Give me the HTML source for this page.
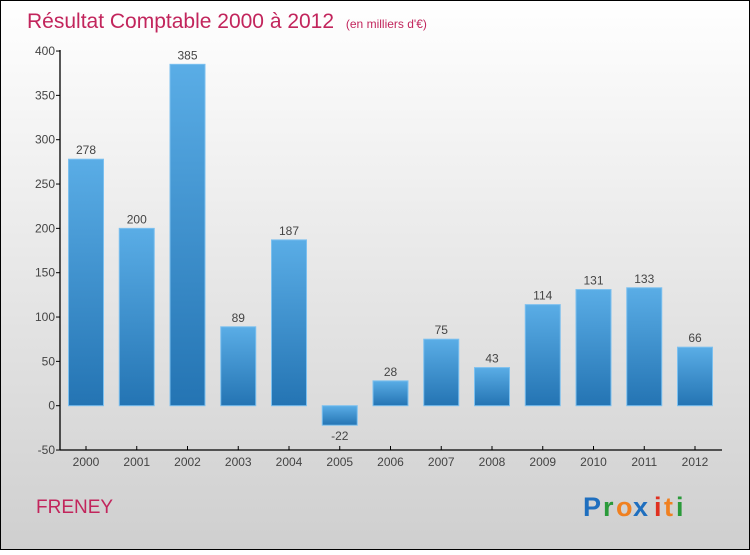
<!DOCTYPE html>
<html><head><meta charset="utf-8"><style>
html,body{margin:0;padding:0;}
body{width:750px;height:550px;overflow:hidden;font-family:"Liberation Sans",sans-serif;}
</style></head><body>
<svg width="750" height="550" xmlns="http://www.w3.org/2000/svg">
<defs>
<linearGradient id="bg" x1="0" y1="0" x2="0" y2="1"><stop offset="0" stop-color="#ffffff"/><stop offset="1" stop-color="#cfcfcf"/></linearGradient>
<linearGradient id="bar" x1="0" y1="0" x2="0" y2="1"><stop offset="0" stop-color="#5aade6"/><stop offset="1" stop-color="#2474b3"/></linearGradient>
</defs>
<rect x="0.5" y="0.5" width="749" height="549" fill="url(#bg)" stroke="#000"/>
<text x="27" y="28" font-size="21" fill="#c2255c">Résultat Comptable 2000 à 2012 <tspan font-size="12" dx="6">(en milliers d'€)</tspan></text>
<g id="axes"></g>
<g id="bars"></g>
<text x="36" y="513" font-size="19" fill="#c2255c">FRENEY</text>
<g font-size="27" font-weight="bold">
<text x="583" y="516" fill="#1f6fbf">P</text><text x="603" y="516" fill="#2a9a3a">r</text><text x="616" y="516" fill="#f08020">o</text><text x="633" y="516" fill="#1f6fbf">x</text><text x="654" y="516" fill="#e03020">i</text><text x="664" y="516" fill="#f08020">t</text><text x="676" y="516" fill="#2a9a3a">i</text>
</g>
</svg>
<script>
const categories=["2000","2001","2002","2003","2004","2005","2006","2007","2008","2009","2010","2011","2012"];
const values=[278,200,385,89,187,-22,28,75,43,114,131,133,66];
const yTicks=[-50,0,50,100,150,200,250,300,350,400];
const NS="http://www.w3.org/2000/svg";
function y(v){return 405.7-v*(399/450);}
function x(i){return 86+i*50.75;}
function mk(t,a,p){const e=document.createElementNS(NS,t);for(const k in a)e.setAttribute(k,a[k]);p.appendChild(e);return e;}
const ax=document.getElementById('axes'),bg=document.getElementById('bars');
const yl=mk('line',{x1:60,y1:y(400)-1,x2:60,y2:450,stroke:'#000','stroke-width':1.3},ax);


const xl=mk('line',{x1:60,y1:450,x2:722,y2:450,stroke:'#000','stroke-width':1.3},ax);


yTicks.forEach(v=>{mk('line',{x1:56,x2:60,y1:y(v),y2:y(v),stroke:'#000'},ax);
const t=mk('text',{x:55,y:y(v)+4,'text-anchor':'end','font-size':12,fill:'#444'},ax);t.textContent=v;

});
categories.forEach((c,i)=>{mk('line',{x1:x(i),x2:x(i),y1:446,y2:450,stroke:'#000'},ax);
const t=mk('text',{x:x(i),y:466,'text-anchor':'middle','font-size':12,fill:'#444'},ax);t.textContent=c;


const v=values[i],top=Math.min(y(v),y(0)),h=Math.abs(y(v)-y(0));
const r=mk('rect',{x:x(i)-17.5,y:top,width:35,height:h,fill:'url(#bar)',stroke:'#7cc0ef','stroke-width':1},bg);


const l=mk('text',{x:x(i),y:v>=0?y(v)-5:y(v)+15,'text-anchor':'middle','font-size':12,fill:'#444'},bg);l.textContent=v;

});
</script>
</body></html>
